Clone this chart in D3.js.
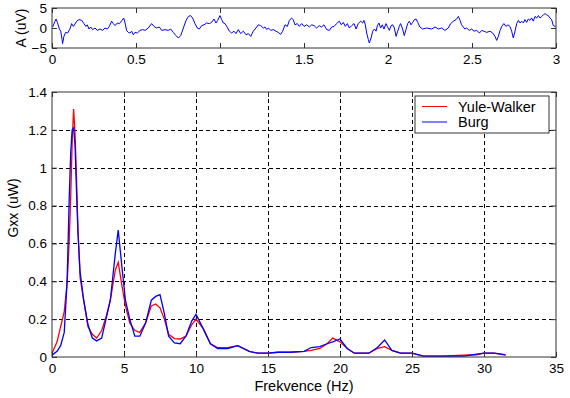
<!DOCTYPE html>
<html>
<head>
<meta charset="utf-8">
<script src="https://cdn.jsdelivr.net/npm/d3@7"></script>
<style>
  body { margin: 0; background: #fff; }
  text { font-family: "Liberation Sans", Arial, sans-serif; fill: #000; }
</style>
</head>
<body>
<div id="container"></div>
<script>
// top trace: time (s) and amplitude (uV)
const sigTime = [0.004, 0.018, 0.024, 0.032, 0.044, 0.052, 0.060, 0.063, 0.071, 0.081, 0.093, 0.107, 0.117, 0.127, 0.137, 0.147, 0.161, 0.177, 0.190, 0.202, 0.210, 0.220, 0.230, 0.242, 0.256, 0.270, 0.286, 0.302, 0.315, 0.329, 0.341, 0.355, 0.365, 0.375, 0.389, 0.401, 0.415, 0.427, 0.435, 0.444, 0.454, 0.464, 0.474, 0.484, 0.494, 0.508, 0.524, 0.540, 0.554, 0.573, 0.593, 0.607, 0.623, 0.639, 0.653, 0.673, 0.692, 0.706, 0.722, 0.738, 0.752, 0.766, 0.782, 0.798, 0.812, 0.825, 0.837, 0.851, 0.865, 0.877, 0.891, 0.905, 0.921, 0.937, 0.950, 0.964, 0.976, 0.986, 1.000, 1.010, 1.020, 1.030, 1.040, 1.056, 1.069, 1.083, 1.095, 1.109, 1.123, 1.139, 1.155, 1.169, 1.183, 1.198, 1.214, 1.228, 1.242, 1.258, 1.268, 1.278, 1.288, 1.302, 1.317, 1.333, 1.347, 1.361, 1.373, 1.387, 1.401, 1.413, 1.426, 1.436, 1.446, 1.460, 1.472, 1.486, 1.500, 1.516, 1.532, 1.546, 1.560, 1.575, 1.591, 1.605, 1.619, 1.635, 1.651, 1.665, 1.679, 1.694, 1.710, 1.722, 1.734, 1.746, 1.758, 1.770, 1.784, 1.798, 1.810, 1.823, 1.837, 1.849, 1.857, 1.865, 1.873, 1.883, 1.889, 1.899, 1.909, 1.919, 1.929, 1.937, 1.946, 1.956, 1.966, 1.976, 1.988, 1.996, 2.008, 2.018, 2.028, 2.038, 2.048, 2.058, 2.067, 2.075, 2.087, 2.097, 2.107, 2.117, 2.127, 2.137, 2.147, 2.157, 2.167, 2.177, 2.190, 2.206, 2.230, 2.260, 2.280, 2.300, 2.319, 2.339, 2.359, 2.373, 2.389, 2.405, 2.419, 2.429, 2.438, 2.448, 2.458, 2.468, 2.484, 2.498, 2.512, 2.528, 2.544, 2.558, 2.571, 2.587, 2.607, 2.623, 2.637, 2.647, 2.657, 2.667, 2.677, 2.690, 2.702, 2.714, 2.726, 2.736, 2.746, 2.756, 2.766, 2.776, 2.786, 2.796, 2.806, 2.815, 2.825, 2.835, 2.845, 2.855, 2.865, 2.875, 2.885, 2.895, 2.905, 2.915, 2.925, 2.935, 2.944, 2.954, 2.964, 2.974, 2.984, 2.998];
const sigAmp = [0.25, 1.7, 2.25, 1.4, -0.25, -0.8, -2.9, -3.9, -2.1, -1.1, -1.25, -0.25, 1.1, 0.4, 1.0, 1.7, 2.1, 1.9, 1.1, 0.4, 0.8, -0.25, 0.25, -0.4, 0, -0.6, -0.25, -0.6, 0, -0.25, 0.4, 1.7, 1.1, 0.6, 1.25, 1.1, 1.8, 2.5, 1.25, -0.6, -1.1, -1.25, -0.8, -1.7, -1.1, -1.25, -0.6, -0.4, -0.6, 0, 1.1, 0.4, 0, 0.25, -0.6, -0.4, -0.6, -0.25, -1.1, -1.9, -2.5, -1.9, 0, 1.9, 2.9, 3.1, 2.5, 1.1, 0, -0.25, 0.6, 0.8, 1.25, 1.1, 1.4, 2.25, 1.25, 1.9, 3.1, 2.1, 1.25, 1.1, 0.4, -0.8, -1.25, -0.8, -1.4, -0.4, -1.4, -0.8, -1.7, -1.4, -2.1, -0.8, 0, 0.8, 0.6, 0, 0.25, -0.4, 0, -0.6, -0.4, -0.8, -1.1, -1.6, -0.8, 0.8, 0.4, 1.9, 2.5, 2.1, 0.8, 1.1, 0.4, 1.1, 0.4, 0.8, 0.25, 0.8, 0.6, 0, 0.6, 0.25, 0.8, -0.4, -0.6, 0.25, 0.4, 1.1, 1.7, 0.8, 1.4, 0.4, 1.1, 0, 0.6, 1.1, -0.25, 1.1, 1.7, 1.25, 1.9, 0.8, -1.25, -2.9, -3.75, -2.5, -0.8, -0.25, -0.8, 0.6, 1.25, 0, 0.8, -0.25, 1.1, 0.4, -0.6, 0.6, 0.8, 0, -2.1, -0.8, 0.4, 1.1, -0.25, -1.9, -0.4, 1.1, 1.7, 0.8, 1.4, 2.1, 2.25, 1.4, 0.25, -0.25, 0, -0.25, 0.25, -0.25, 0, -0.6, 0, 1.1, 1.7, 2.1, 2.9, 1.9, 0.8, 0.25, -0.25, 0, -0.6, -0.25, -0.8, -0.6, -1.25, -0.6, -0.8, -1.1, -0.8, -1.25, -2.1, -3.1, -2.1, -0.6, 0.4, 1.1, 0.4, 0.8, 0.4, -0.8, -2.5, -0.8, 1.1, 1.9, 1.25, 1.7, 1.25, 2.1, 1.4, 2.25, 1.9, 2.5, 1.7, 2.9, 2.5, 3.1, 2.5, 2.9, 3.3, 3.6, 3.3, 3.1, 2.5, 2.1, 0.6, 0.3];

// spectra: frequency (Hz) and Gxx (uW)
const freq = [0, 0.35, 0.6, 0.85, 1.05, 1.2, 1.3, 1.4, 1.5, 1.6, 1.7, 1.8, 1.95, 2.2, 2.5, 2.8, 3.1, 3.45, 3.75, 4.05, 4.4, 4.6, 4.85, 5.1, 5.4, 5.75, 6.1, 6.5, 6.9, 7.2, 7.5, 7.8, 8.1, 8.5, 8.9, 9.3, 9.7, 10.0, 10.5, 11.0, 11.5, 12.2, 12.9, 13.7, 14.3, 15.0, 15.7, 16.5, 17.5, 18.0, 18.6, 19.1, 19.5, 20.0, 20.5, 21.0, 22.0, 22.6, 23.1, 23.6, 24.2, 25.0, 25.8, 27.0, 28.6, 29.5, 30.0, 30.7, 31.5];
const yuleWalker = [0.02, 0.08, 0.16, 0.24, 0.39, 0.62, 0.85, 1.13, 1.31, 1.18, 0.95, 0.68, 0.42, 0.3, 0.16, 0.12, 0.1, 0.14, 0.21, 0.3, 0.46, 0.5, 0.38, 0.27, 0.18, 0.14, 0.13, 0.18, 0.27, 0.28, 0.26, 0.2, 0.12, 0.097, 0.095, 0.11, 0.17, 0.2, 0.15, 0.07, 0.05, 0.05, 0.06, 0.03, 0.02, 0.02, 0.025, 0.025, 0.03, 0.035, 0.045, 0.07, 0.1, 0.08, 0.045, 0.02, 0.02, 0.045, 0.055, 0.035, 0.02, 0.02, 0.005, 0.005, 0.01, 0.012, 0.02, 0.02, 0.012];
const burg = [0.01, 0.03, 0.06, 0.13, 0.4, 0.85, 1.08, 1.2, 1.21, 1.12, 0.88, 0.66, 0.45, 0.3, 0.17, 0.1, 0.085, 0.1, 0.2, 0.3, 0.55, 0.67, 0.48, 0.3, 0.2, 0.11, 0.11, 0.18, 0.3, 0.32, 0.33, 0.23, 0.11, 0.075, 0.07, 0.11, 0.19, 0.225, 0.15, 0.07, 0.045, 0.045, 0.06, 0.03, 0.02, 0.02, 0.025, 0.025, 0.03, 0.05, 0.055, 0.07, 0.08, 0.095, 0.045, 0.02, 0.02, 0.05, 0.09, 0.035, 0.02, 0.02, 0.005, 0.005, 0.005, 0.015, 0.02, 0.02, 0.01];

const topXTicks = [0, 0.5, 1, 1.5, 2, 2.5, 3];
const topYTicks = [-5, 0, 5];
const mainXTicks = [0, 5, 10, 15, 20, 25, 30, 35];
const mainYTicks = [0, 0.2, 0.4, 0.6, 0.8, 1, 1.2, 1.4];
const seriesNames = ["Yule-Walker", "Burg"];
const seriesColors = ["#ff0000", "#0000ff"];

const width = 570, height = 398;
const left = 52, right = 556;

const svg = d3.select("#container").append("svg")
  .attr("width", width)
  .attr("height", height);

svg.append("rect").attr("width", width).attr("height", height).attr("fill", "#fff");

// ---- top panel ----
const tx = d3.scaleLinear().domain([0, 3]).range([left, right]);
const ty = d3.scaleLinear().domain([-5, 5]).range([48, 8]);

const topG = svg.append("g");

topG.append("path")
  .datum(sigTime.map((t, i) => [t, sigAmp[i]]))
  .attr("fill", "none")
  .attr("stroke", "#0000ff")
  .attr("stroke-width", 1)
  .attr("d", d3.line().x(d => tx(d[0])).y(d => ty(d[1])));

topG.append("g").attr("transform", `translate(0,${ty(-5)})`)
  .call(d3.axisBottom(tx).tickValues(topXTicks).tickFormat(d3.format("")).tickSize(-5).tickPadding(6));
topG.append("g").attr("transform", `translate(0,${ty(5)})`)
  .call(d3.axisTop(tx).tickValues(topXTicks).tickSize(-5).tickFormat(""));
topG.append("g").attr("transform", `translate(${left},0)`)
  .call(d3.axisLeft(ty).tickValues(topYTicks).tickSize(-5).tickPadding(5));
topG.append("g").attr("transform", `translate(${right},0)`)
  .call(d3.axisRight(ty).tickValues(topYTicks).tickSize(-5).tickFormat(""));

topG.append("rect")
  .attr("x", left).attr("y", ty(5))
  .attr("width", right - left).attr("height", ty(-5) - ty(5))
  .attr("fill", "none").attr("stroke", "#333");

topG.append("text")
  .attr("transform", `translate(21,28) rotate(-90)`)
  .attr("text-anchor", "middle")
  .attr("dy", "0.35em")
  .attr("font-size", 14)
  .text("A (uV)");

// ---- main panel ----
const x = d3.scaleLinear().domain([0, 35]).range([left, right]);
const y = d3.scaleLinear().domain([0, 1.4]).range([357, 92]);

const mainG = svg.append("g");

// grid
mainG.append("g").selectAll("line")
  .data(mainXTicks.filter(d => d > 0 && d < 35))
  .join("line")
  .attr("x1", d => Math.round(x(d)) + 0.5).attr("x2", d => Math.round(x(d)) + 0.5)
  .attr("y1", y(1.4)).attr("y2", y(0))
  .attr("stroke", "#000").attr("stroke-dasharray", "4,3");
mainG.append("g").selectAll("line")
  .data(mainYTicks.filter(d => d > 0 && d < 1.4))
  .join("line")
  .attr("y1", d => Math.round(y(d)) + 0.5).attr("y2", d => Math.round(y(d)) + 0.5)
  .attr("x1", x(0)).attr("x2", x(35))
  .attr("stroke", "#000").attr("stroke-dasharray", "4,3");

const line = d3.line().x((d, i) => x(freq[i])).y(d => y(d));
[yuleWalker, burg].forEach((vals, k) => {
  mainG.append("path")
    .datum(vals)
    .attr("fill", "none")
    .attr("stroke", seriesColors[k])
    .attr("stroke-width", 1.3)
    .attr("d", line);
});

mainG.append("g").attr("transform", `translate(0,${y(0)})`)
  .call(d3.axisBottom(x).tickValues(mainXTicks).tickSize(-5).tickPadding(6));
mainG.append("g").attr("transform", `translate(0,${y(1.4)})`)
  .call(d3.axisTop(x).tickValues(mainXTicks).tickSize(-5).tickFormat(""));
mainG.append("g").attr("transform", `translate(${left},0)`)
  .call(d3.axisLeft(y).tickValues(mainYTicks).tickFormat(d3.format("")).tickSize(-5).tickPadding(5));
mainG.append("g").attr("transform", `translate(${right},0)`)
  .call(d3.axisRight(y).tickValues(mainYTicks).tickSize(-5).tickFormat(""));

mainG.append("rect")
  .attr("x", left).attr("y", y(1.4))
  .attr("width", right - left).attr("height", y(0) - y(1.4))
  .attr("fill", "none").attr("stroke", "#333");

mainG.append("text")
  .attr("x", (left + right) / 2).attr("y", 391)
  .attr("text-anchor", "middle")
  .attr("font-size", 14.5)
  .text("Frekvence (Hz)");

mainG.append("text")
  .attr("transform", `translate(13,208) rotate(-90)`)
  .attr("text-anchor", "middle")
  .attr("dy", "0.35em")
  .attr("font-size", 14)
  .text("Gxx (uW)");

// legend
const lg = mainG.append("g").attr("transform", "translate(415,96)");
lg.append("rect").attr("width", 134).attr("height", 37)
  .attr("fill", "#fff").attr("stroke", "#333");
seriesNames.forEach((name, i) => {
  const yy = 10.5 + i * 15.5;
  lg.append("line").attr("x1", 7).attr("x2", 32).attr("y1", yy).attr("y2", yy)
    .attr("stroke", seriesColors[i]).attr("stroke-width", 1);
  lg.append("text").attr("x", 43).attr("y", yy).attr("dy", "0.35em")
    .attr("font-size", 14.5).text(name);
});

svg.selectAll(".domain").remove();
svg.selectAll(".tick line").attr("stroke", "#333");
svg.selectAll(".tick text").attr("font-family", "Liberation Sans, Arial, sans-serif").attr("font-size", 13.5).attr("fill", "#000");
</script>
</body>
</html>
